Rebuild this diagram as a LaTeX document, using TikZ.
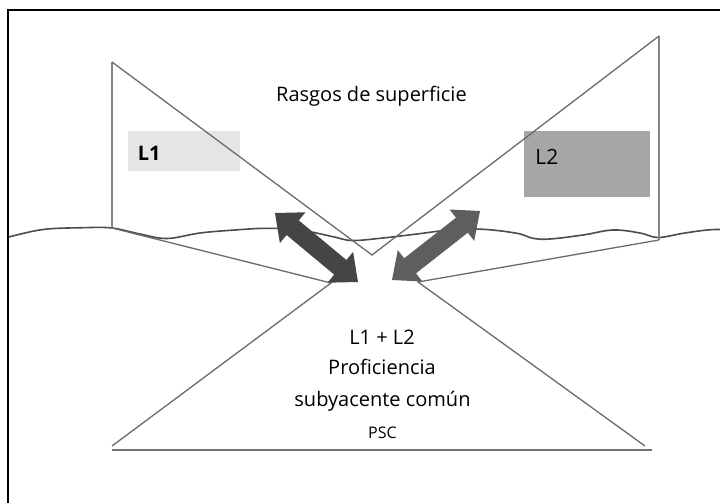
\documentclass[tikz,border=0pt]{standalone}
\usepackage{fontspec}
\setmainfont{Open Sans}
\begin{document}
\begin{tikzpicture}[x=0.5pt,y=-0.5pt,
  thinline/.style={draw=black!58,line width=0.65pt},
  postline/.style={draw=black!48,line width=1.2pt},
  waveline/.style={draw=black!70,line width=0.8pt},
  txt/.style={inner sep=0pt,anchor=base,font=\fontsize{10pt}{12pt}\selectfont},
  arrowA/.style={fill=black!73,draw=none},
  arrowB/.style={fill=black!63,draw=none}]
\useasboundingbox (0,0) rectangle (720,503);
\fill[white] (0,0) rectangle (720,503);
% frame
\draw[line width=1pt,black] (8,503) -- (8,10) -- (720,10);
% boxes
\fill[black!10] (128.5,131.5) rectangle (240,171) coordinate (l1box);
\fill[black!35] (524.5,131.5) rectangle (650,197.5) coordinate (l2box);
\node[txt,anchor=base west,font=\fontsize{10pt}{12pt}\selectfont\bfseries] (L1) at (137.5,160.5) {L1};
\node[txt,anchor=base west,font=\fontsize{10.5pt}{12pt}\selectfont] (L2) at (535,164) {L2};
% coordinates
\coordinate (lt) at (112,62);
\coordinate (lb) at (112,228);
\coordinate (apex) at (372,255);
\coordinate (rt) at (659,36);
\coordinate (rb) at (659,240);
\coordinate (lm) at (331,283);
\coordinate (rm) at (418,282);
\coordinate (bl) at (112,446);
\coordinate (br) at (645,446);
\coordinate (basel) at (112,450);
\coordinate (baser) at (652,450);
% wave line
\draw[waveline] plot[smooth,tension=0.6] coordinates {(9,237) (43,229.5) (83,227.7) (112,228) (140,234) (167,238.5) (200,233) (235,230) (267,228.3) (300,230) (333,236.7) (352,240.5) (383,238) (417,234) (450,230) (483,229.3) (517,233.3) (533,238.3) (550,239) (583,235) (613,230) (640,233) (658,237.5) (683,233.3) (707,230) (720,229.5)};
% iceberg outlines
\draw[postline] (lt) -- (lb);
\draw[postline] (rt) -- (rb);
\draw[thinline] (lt) -- (apex) -- (rt);
\draw[thinline] (lb) -- (lm) -- (bl);
\draw[thinline] (rb) -- (rm) -- (br);
\draw[draw=black!55,line width=1pt] (basel) -- (baser);
% arrows
\coordinate (a1) at (275,213);
\coordinate (a2) at (358,282);
\fill[arrowA] (a1) -- (279.9,243.1) -- (286.6,235.0) -- (334.2,274.6) -- (327.5,282.7) -- (a2) -- (353.1,251.9) -- (346.4,260.0) -- (298.8,220.4) -- (305.5,212.3) -- cycle;
\coordinate (b1) at (392,280);
\coordinate (b2) at (480,211);
\fill[arrowB] (b1) -- (422.4,281.5) -- (416.0,273.3) -- (467.8,232.7) -- (474.2,240.9) -- (b2) -- (449.6,209.5) -- (456.0,217.7) -- (404.2,258.3) -- (397.8,250.1) -- cycle;
% texts
\node[txt] (rasgos) at (371.5,101.7) {Rasgos de superficie};
\node[txt] (l1l2) at (382,344) {L1 + L2};
\node[txt] (prof) at (382,375) {Proficiencia};
\node[txt] (suby) at (382.5,406.7) {subyacente común};
\node[txt,font=\fontsize{8pt}{10pt}\selectfont] (psc) at (382.5,438) {PSC};
\end{tikzpicture}
\end{document}
